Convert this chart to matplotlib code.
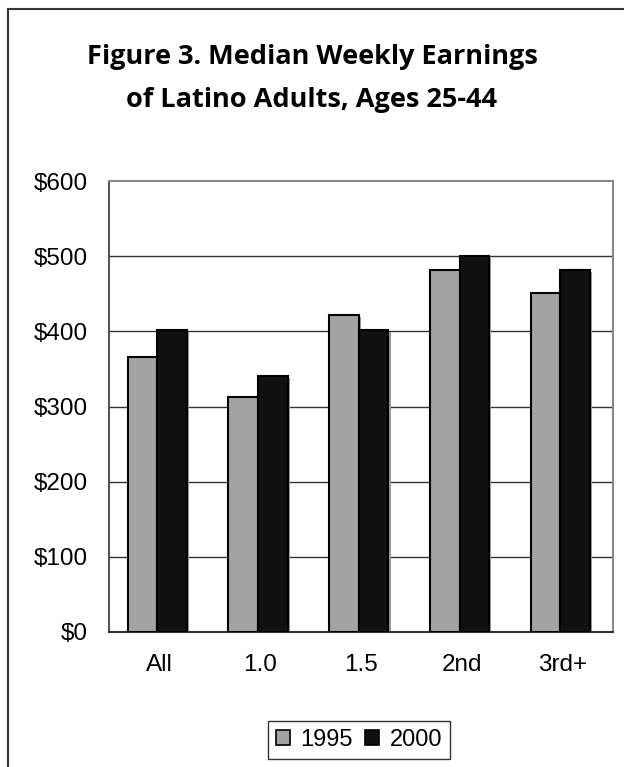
import numpy as np
import matplotlib
matplotlib.use("Agg")
import matplotlib.pyplot as plt
from matplotlib.patches import Patch
from matplotlib.lines import Line2D

# data
kategorie = ["All", "1.0", "1.5", "2nd", "3rd+"]
lata = ["1995", "2000"]
zarobki_1995 = [366, 313, 422, 481, 451]
zarobki_2000 = [402, 341, 402, 500, 482]
yticks = [0, 100, 200, 300, 400, 500, 600]
ytick_labels = ["$0", "$100", "$200", "$300", "$400", "$500", "$600"]

kolor_1995 = "#a3a3a3"
kolor_2000 = "#111111"
cien = "#9a9a9a"

plt.rcParams['font.family'] = ['Liberation Sans', 'DejaVu Sans']

fig = plt.figure(figsize=(6.24, 7.67), dpi=100)
ax = fig.add_axes([109/624, 1-632/767, (613-109)/624, (632-181)/767])

x = np.arange(len(kategorie))
w = 0.293
# shadow first, then bars
dx, dy = 0.022, -2.5
for off, vals in ((-0.168, zarobki_1995), (0.125, zarobki_2000)):
	ax.bar(x+off+dx, np.array(vals)+dy, w, color=cien, edgecolor='none', zorder=2)
ax.bar(x-0.168, zarobki_1995, w, color=kolor_1995, edgecolor='black', linewidth=1.5, zorder=3)
ax.bar(x+0.125, zarobki_2000, w, color=kolor_2000, edgecolor='black', linewidth=1.5, zorder=3)

ax.set_xlim(-0.5, 4.5)
ax.set_ylim(0, 600)
ax.set_yticks(yticks)
ax.set_yticklabels(ytick_labels, fontsize=17.5)
ax.set_xticks(x)
ax.set_xticklabels(kategorie, fontsize=17.5)
ax.tick_params(axis='x', length=0, pad=16)
ax.tick_params(axis='y', length=0, pad=15)
for yy in yticks[1:-1]:
	ax.axhline(yy, color='#333333', linewidth=1.0, zorder=1)
for s in ['top', 'right']:
	ax.spines[s].set_color('#888888')
	ax.spines[s].set_linewidth(1.5)
ax.spines['left'].set_color('#555555')
ax.spines['left'].set_linewidth(1.5)
ax.spines['bottom'].set_color('#333333')
ax.spines['bottom'].set_linewidth(1.5)

fig.text(0.5, 1-64/767, "Figure 3. Median Weekly Earnings", ha='center', va='baseline',
	fontsize=19.5, fontweight='bold', family=['Open Sans', 'DejaVu Sans'])
fig.text(0.5, 1-107/767, "of Latino Adults, Ages 25-44", ha='center', va='baseline',
	fontsize=19.5, fontweight='bold', family=['Open Sans', 'DejaVu Sans'])

uchwyty = [Patch(facecolor=kolor_1995, edgecolor='black', linewidth=1.2),
	Patch(facecolor=kolor_2000, edgecolor='black', linewidth=1.2)]
leg = fig.legend(uchwyty, lata, loc='center', bbox_to_anchor=(359/624, 1-740/767), ncol=2,
	fontsize=17, frameon=True, fancybox=False, edgecolor='black', borderpad=0.35,
	handlelength=0.6, handleheight=0.6, handletextpad=0.45, columnspacing=0.5)
leg.get_frame().set_linewidth(1.0)

# outer frame (cut at the right and bottom)
fig.add_artist(Line2D([8/624, 8/624], [0, 1-9/767], color='#333333', linewidth=1.5, transform=fig.transFigure))
fig.add_artist(Line2D([8/624, 1], [1-9/767, 1-9/767], color='#333333', linewidth=1.5, transform=fig.transFigure))

fig.savefig("out.png", dpi=100)
